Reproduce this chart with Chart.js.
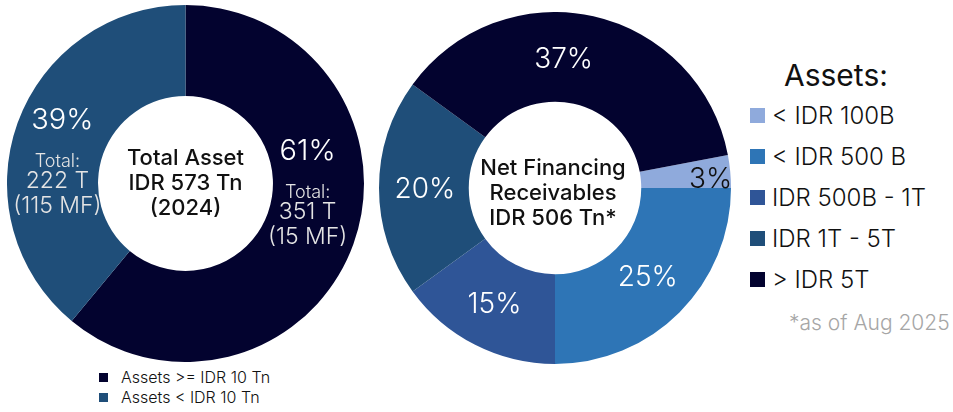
<!DOCTYPE html>
<html>
<head>
<meta charset="utf-8">
<script src="https://cdn.jsdelivr.net/npm/chart.js"></script>
<style>
  body { margin: 0; background: #fff; font-family: Inter, "Open Sans", sans-serif; }
  #wrap { position: relative; width: 953px; height: 412px; overflow: hidden; }
  #leftBox { position: absolute; left: 7px; top: 5px; width: 357px; height: 357px; }
  #rightBox { position: absolute; left: 379px; top: 12px; width: 352px; height: 352px; }
  .legend { position: absolute; }
  .legend .item { display: flex; align-items: center; white-space: nowrap; }
  .legend .sw { display: inline-block; flex: none; }
  #leftLegend { left: 99px; top: 367px; font-size: 16px; font-weight: 300; color: #111; }
  #leftLegend .item { height: 20px; }
  #leftLegend .sw { width: 9px; height: 9px; margin-right: 13px; }
  #rightLegend { left: 750px; top: 55px; font-size: 24px; font-weight: 300; color: #111; }
  #rightLegend .title { font-size: 30px; font-weight: 400; margin-left: 34px; height: 40px; line-height: 40px; }
  #rightLegend .item { height: 41px; }
  #rightLegend .sw { width: 15px; height: 15px; margin-right: 7px; }
  #note { position: absolute; left: 789px; top: 310px; font-size: 21px; font-weight: 300; color: #a6a6a6; white-space: nowrap; }
</style>
</head>
<body>
<div id="wrap">
  <div id="leftBox"><canvas id="leftChart"></canvas></div>
  <div id="rightBox"><canvas id="rightChart"></canvas></div>
  <div class="legend" id="leftLegend"></div>
  <div class="legend" id="rightLegend"><div class="title">Assets:</div></div>
  <div id="note">*as of Aug 2025</div>
</div>
<script>
// left doughnut: total asset split by size of MF
const leftLabels = ["Assets >= IDR 10 Tn", "Assets < IDR 10 Tn"];
const leftValues = [61, 39];
const leftTotals = ["351 T", "222 T"];
const leftCounts = ["(15 MF)", "(115 MF)"];
const leftColors = ["#03032f", "#1f4e79"];

// right doughnut: net financing receivables by asset group
const rightLabels = ["< IDR 100B", "< IDR 500 B", "IDR 500B - 1T", "IDR 1T - 5T", "> IDR 5T"];
const rightValues = [3, 25, 15, 20, 37];
const rightColors = ["#8faadc", "#2e75b6", "#2f5597", "#1f4e79", "#03032f"];

const FONT = "Inter, 'Open Sans', sans-serif";

// draws the % labels (and optional sub lines) on each slice
const sliceLabels = {
    id: "sliceLabels",
    afterDatasetsDraw(chart, args, opts) {
        const ctx = chart.ctx;
        const meta = chart.getDatasetMeta(0);
        const vals = chart.data.datasets[0].data;
        ctx.save();
        ctx.textAlign = "center";
        ctx.textBaseline = "middle";
        meta.data.forEach((arc, i) => {
            const p = arc.tooltipPosition();
            const x = p.x + opts.offsets[i][0];
            const y = p.y + opts.offsets[i][1];
            ctx.fillStyle = opts.colors[i];
            ctx.font = "300 " + opts.size + "px " + FONT;
            ctx.fillText(vals[i] + "%", x, y);
            if (opts.sub) {
                const sx = x + opts.sub.dx[i];
                ctx.fillStyle = "#e4e4e4";
                ctx.font = "300 18px " + FONT;
                ctx.fillText("Total:", sx, y + 41);
                ctx.font = "300 23px " + FONT;
                ctx.fillText(opts.sub.totals[i], sx, y + 61);
                ctx.fillText(opts.sub.counts[i], sx, y + 86);
            }
        });
        ctx.restore();
    }
};

// text in the hole
const centerText = {
    id: "centerText",
    afterDraw(chart, args, opts) {
        const ctx = chart.ctx;
        const a = chart.chartArea;
        const cx = (a.left + a.right) / 2 + (opts.dx || 0);
        const cy = (a.top + a.bottom) / 2 + (opts.dy || 0);
        ctx.save();
        ctx.fillStyle = "#111";
        ctx.textAlign = "center";
        ctx.textBaseline = "middle";
        ctx.font = "500 22px " + FONT;
        const n = opts.lines.length;
        opts.lines.forEach((t, i) => {
            ctx.fillText(t, cx, cy + (i - (n - 1) / 2) * 25);
        });
        ctx.restore();
    }
};

function baseOptions() {
    return {
        responsive: true,
        maintainAspectRatio: false,
        animation: false,
        cutout: "49%",
        layout: { padding: 0 },
        plugins: { legend: { display: false }, tooltip: { enabled: false } }
    };
}

const lo = baseOptions();
lo.plugins.sliceLabels = {
    size: 29,
    colors: ["#fff", "#fff"],
    offsets: [[-3, -77], [2, -18]],
    sub: { dx: [0, -5], totals: leftTotals, counts: leftCounts }
};
lo.plugins.centerText = { lines: ["Total Asset", "IDR 573 Tn", "(2024)"], dy: 0 };

new Chart(document.getElementById("leftChart"), {
    type: "doughnut",
    data: {
        labels: leftLabels,
        datasets: [{ data: leftValues, backgroundColor: leftColors, borderWidth: 0 }]
    },
    options: lo,
    plugins: [sliceLabels, centerText]
});

const ro = baseOptions();
ro.rotation = 79.2;
ro.plugins.sliceLabels = {
    size: 28,
    colors: ["#111", "#fff", "#fff", "#fff", "#fff"],
    offsets: [[25, 4], [0, -3], [-1, 0], [1, 2], [-20, 0]]
};
ro.plugins.centerText = { lines: ["Net Financing", "Receivables", "IDR 506 Tn*"], dx: -2, dy: 5 };

new Chart(document.getElementById("rightChart"), {
    type: "doughnut",
    data: {
        labels: rightLabels,
        datasets: [{ data: rightValues, backgroundColor: rightColors, borderWidth: 0 }]
    },
    options: ro,
    plugins: [sliceLabels, centerText]
});

// html legends built from the same arrays
function buildLegend(el, labels, colors) {
    labels.forEach((l, i) => {
        const row = document.createElement("div");
        row.className = "item";
        const sw = document.createElement("span");
        sw.className = "sw";
        sw.style.background = colors[i];
        row.appendChild(sw);
        row.appendChild(document.createTextNode(l));
        el.appendChild(row);
    });
}
buildLegend(document.getElementById("leftLegend"), leftLabels, leftColors);
buildLegend(document.getElementById("rightLegend"), rightLabels, rightColors);
</script>
</body>
</html>
